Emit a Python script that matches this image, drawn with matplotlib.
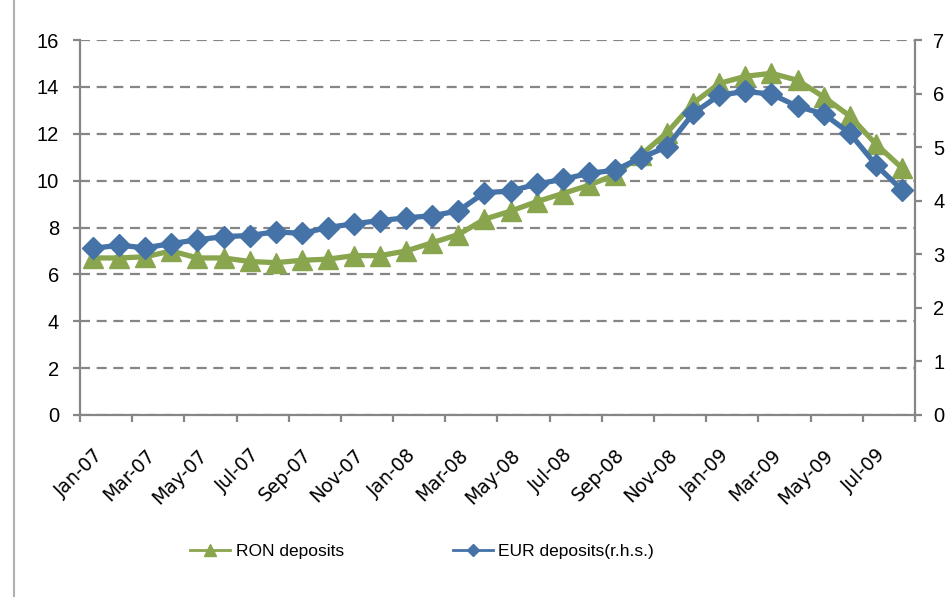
import matplotlib
matplotlib.use("Agg")
import matplotlib.pyplot as plt
from matplotlib.lines import Line2D
import numpy as np

months = ["Jan-07","Feb-07","Mar-07","Apr-07","May-07","Jun-07","Jul-07","Aug-07",
          "Sep-07","Oct-07","Nov-07","Dec-07","Jan-08","Feb-08","Mar-08","Apr-08",
          "May-08","Jun-08","Jul-08","Aug-08","Sep-08","Oct-08","Nov-08","Dec-08",
          "Jan-09","Feb-09","Mar-09","Apr-09","May-09","Jun-09","Jul-09","Aug-09"]

ron_deposits = [6.7, 6.7, 6.75, 7.0, 6.7, 6.7, 6.55, 6.5,
                6.6, 6.65, 6.8, 6.8, 7.0, 7.35, 7.7, 8.35,
                8.7, 9.1, 9.45, 9.8, 10.25, 11.1, 12.05, 13.3,
                14.15, 14.45, 14.58, 14.28, 13.57, 12.76, 11.56, 10.54]

eur_deposits = [3.11, 3.17, 3.12, 3.2, 3.27, 3.33, 3.35, 3.42,
                3.39, 3.5, 3.57, 3.63, 3.68, 3.72, 3.81, 4.15,
                4.18, 4.31, 4.4, 4.51, 4.57, 4.8, 5.01, 5.63,
                5.97, 6.04, 5.99, 5.76, 5.62, 5.26, 4.67, 4.2]

series_labels = ["RON deposits", "EUR deposits(r.h.s.)"]

green = "#89A54E"
blue = "#4572A7"
gray = "#868686"

fig = plt.figure(figsize=(9.53, 5.97), dpi=100)
ax = fig.add_axes([80/953, 1-415/597, 835/953, 375/597])
ax2 = ax.twinx()

x = np.arange(len(months))

ax.plot(x, ron_deposits, color=green, lw=3.8, marker="^", ms=14, zorder=3)
ax2.plot(x, eur_deposits, color=blue, lw=3.8, marker="D", ms=11, zorder=3)

ax.set_xlim(-0.5, len(months)-0.5)
ax.set_ylim(0, 16)
ax2.set_ylim(0, 7)
ax.set_yticks(np.arange(0, 17, 2))
ax2.set_yticks(np.arange(0, 8, 1))

ax.yaxis.grid(True, color=gray, lw=1.6, ls=(0, (4.5, 3)))
ax.set_axisbelow(True)

for a in (ax, ax2):
    for s in a.spines.values():
        s.set_visible(False)
for a, side in ((ax, "left"), (ax, "bottom"), (ax2, "right")):
    a.spines[side].set_visible(True)
    a.spines[side].set_color(gray)
    a.spines[side].set_linewidth(1.6)

ax.set_xticks(x[::2])
ax.set_xticklabels(months[::2], rotation=45, ha="right", va="top",
                   rotation_mode="anchor", fontsize=13.5, family="DejaVu Sans")
ax.tick_params(axis="x", which="major", length=0, pad=22)
ax.set_xticks(np.arange(-0.5, len(months), 2), minor=True)
ax.tick_params(axis="x", which="minor", length=5, width=1.6, color=gray, direction="out")

ax.tick_params(axis="y", length=5, width=1.6, color=gray, pad=10, labelsize=14.5)
ax2.tick_params(axis="y", length=5, width=1.6, color=gray, pad=8, labelsize=14.5)
for lab in ax.get_yticklabels() + ax2.get_yticklabels():
    lab.set_family("Liberation Sans")

leg_font = {"family": "Liberation Sans", "size": 12.5}
h1 = Line2D([], [], color=green, lw=2, marker="^", ms=8)
h2 = Line2D([], [], color=blue, lw=2, marker="D", ms=6)
fig.legend([h1], [series_labels[0]], loc="center left",
           bbox_to_anchor=(190/953, 1-551/597), frameon=False, prop=leg_font,
           borderpad=0, borderaxespad=0, handlelength=2.3, handletextpad=0.35)
fig.legend([h2], [series_labels[1]], loc="center left",
           bbox_to_anchor=(453/953, 1-551/597), frameon=False, prop=leg_font,
           borderpad=0, borderaxespad=0, handlelength=2.3, handletextpad=0.3)

fig.add_artist(Line2D([14/953, 14/953], [0, 1], color="#B0B0B0", lw=1.5,
                      transform=fig.transFigure))

fig.savefig("out.png", dpi=100)
